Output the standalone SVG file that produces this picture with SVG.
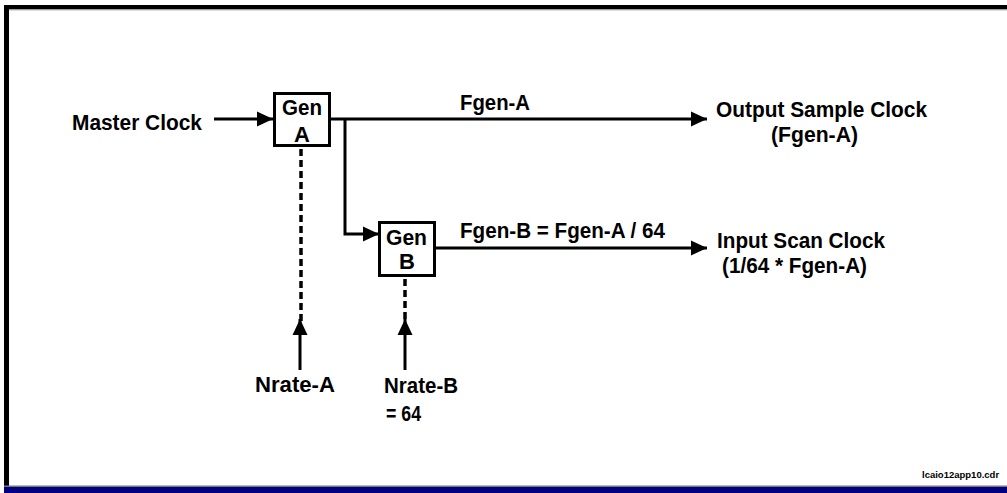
<svg xmlns="http://www.w3.org/2000/svg" width="1007" height="493" viewBox="0 0 1007 493">
<style>
text{font-family:"Liberation Sans",Arial,sans-serif;font-weight:bold;fill:#000}
.lbl{font-size:22px}
.ln{stroke:#000;stroke-width:3;fill:none}
.dash{stroke:#000;stroke-width:3.5;fill:none;stroke-dasharray:7 4}
.box{fill:#fff;stroke:#000;stroke-width:3}
</style>
<defs>
<marker id="ah" markerWidth="16" markerHeight="16" viewBox="0 0 16 16" refX="16" refY="8" orient="auto" markerUnits="userSpaceOnUse">
<path d="M0,0.5 L16,8 L0,15.5 Z" fill="#000"/>
</marker>
</defs>
<rect x="0" y="0" width="1007" height="493" fill="#fff"/>
<g id="frame">
<rect x="4" y="5" width="1003" height="4.5" fill="#000"/>
<rect x="4" y="5" width="5" height="481" fill="#000"/>
<rect x="9" y="9.5" width="998" height="1" fill="#bbb"/>
<rect x="4" y="485.5" width="1003" height="1.5" fill="#777"/>
<rect x="4" y="487" width="1003" height="6" fill="#000080"/>
</g>
<g id="connectors">
<line class="ln" x1="214" y1="119" x2="273" y2="119" marker-end="url(#ah)"/>
<line class="ln" x1="330" y1="119" x2="707" y2="119" marker-end="url(#ah)"/>
<polyline class="ln" points="345,119 345,234 379,234" marker-end="url(#ah)"/>
<line class="ln" x1="435" y1="248" x2="707" y2="248" marker-end="url(#ah)"/>
<line class="dash" x1="301" y1="149" x2="301" y2="322"/>
<line class="dash" x1="405" y1="279" x2="405" y2="322"/>
<line class="ln" x1="300" y1="370" x2="300" y2="319" marker-end="url(#ah)"/>
<line class="ln" x1="405" y1="370" x2="405" y2="319" marker-end="url(#ah)"/>
</g>
<g id="genA">
<rect class="box" x="274.5" y="93.5" width="55" height="52"/>
<text class="lbl" x="282" y="115" textLength="40" lengthAdjust="spacingAndGlyphs">Gen</text>
<text class="lbl" x="302" y="142" text-anchor="middle">A</text>
</g>
<g id="genB">
<rect class="box" x="379.5" y="222.5" width="55" height="53"/>
<text class="lbl" x="386" y="245" textLength="41" lengthAdjust="spacingAndGlyphs">Gen</text>
<text class="lbl" x="407" y="269" text-anchor="middle">B</text>
</g>
<g id="master-clock">
<text class="lbl" x="72" y="130" textLength="130" lengthAdjust="spacingAndGlyphs">Master Clock</text>
</g>
<g id="fgen-a-label">
<text class="lbl" x="460" y="110" textLength="70" lengthAdjust="spacingAndGlyphs">Fgen-A</text>
</g>
<g id="fgen-b-label">
<text class="lbl" x="460" y="238" textLength="205" lengthAdjust="spacingAndGlyphs">Fgen-B = Fgen-A / 64</text>
</g>
<g id="output-sample-clock">
<text class="lbl" x="716" y="117" textLength="211" lengthAdjust="spacingAndGlyphs">Output Sample Clock</text>
<text class="lbl" x="771" y="142" textLength="87" lengthAdjust="spacingAndGlyphs">(Fgen-A)</text>
</g>
<g id="input-scan-clock">
<text class="lbl" x="717" y="248" textLength="168" lengthAdjust="spacingAndGlyphs">Input Scan Clock</text>
<text class="lbl" x="722" y="273" textLength="145" lengthAdjust="spacingAndGlyphs">(1/64 * Fgen-A)</text>
</g>
<g id="nrate-a">
<text class="lbl" x="255" y="392" textLength="80" lengthAdjust="spacingAndGlyphs">Nrate-A</text>
</g>
<g id="nrate-b">
<text class="lbl" x="384" y="393" textLength="74" lengthAdjust="spacingAndGlyphs">Nrate-B</text>
<text class="lbl" x="386" y="421" textLength="35" lengthAdjust="spacingAndGlyphs">= 64</text>
</g>
<g id="filename">
<text x="922" y="478" font-size="9.5">lcaio12app10.cdr</text>
</g>
</svg>
